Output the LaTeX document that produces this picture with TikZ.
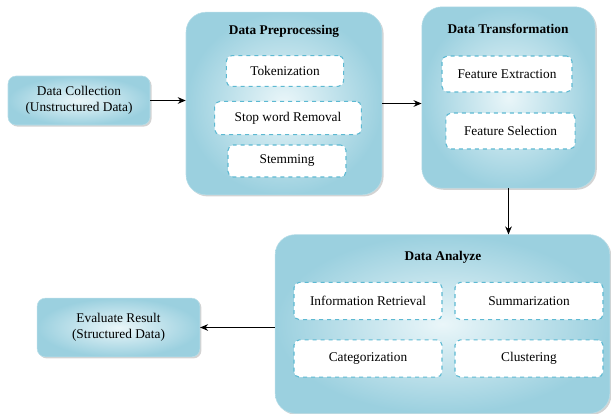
\documentclass[tikz,border=0pt]{standalone}
\usepackage{fontspec}
\setmainfont{Liberation Serif}
\usepackage[HTML]{xcolor}
\usetikzlibrary{positioning, arrows.meta, shadows}
\definecolor{boxdark}{HTML}{9BD0DF}
\definecolor{boxlight}{HTML}{EAF6F9}
\definecolor{dashblue}{HTML}{5DB9D2}
\definecolor{edgeblue}{HTML}{B9DEE8}

\begin{document}
\begin{tikzpicture}[x=0.75pt,y=-0.75pt,
  stage/.style={draw=edgeblue,rounded corners=15pt,inner color=boxlight,outer color=boxdark,
    drop shadow={shadow xshift=1.2pt,shadow yshift=-1.2pt,opacity=0.35}},
  endbox/.style={draw=edgeblue,rounded corners=6pt,inner color=boxlight,outer color=boxdark,align=center,
    font=\fontsize{10}{12}\selectfont,drop shadow={shadow xshift=1.2pt,shadow yshift=-1.2pt,opacity=0.35}},
  task/.style={draw=dashblue,dashed,thick,fill=white,rounded corners=4pt,font=\fontsize{10}{12}\selectfont},
  title/.style={font=\bfseries\fontsize{10}{12}\selectfont},
  flow/.style={-{Stealth[length=6pt,width=5pt]},thick}]
\useasboundingbox (0,0) rectangle (611,414);

% outer boxes
\node[endbox,minimum width=106.5pt,minimum height=36.75pt] (collect) at (79,100.5)
{Data Collection\\(Unstructured Data)};
\node[endbox,minimum width=122pt,minimum height=44pt] (eval) at (118.5,327.5)
{Evaluate Result\\(Structured Data)};
\node[stage,minimum width=147pt,minimum height=137pt] (prep) at (284,103.5) {};
\node[stage,minimum width=130pt,minimum height=136pt] (trans) at (508.5,97.5) {};
\node[stage,minimum width=251pt,minimum height=134pt] (ana) at (442.5,324) {};

% titles
\node[title] (preptitle) at (284,31) {Data Preprocessing};
\node[title] (transtitle) at (508,29) {Data Transformation};
\node[title] (anatitle) at (443,257) {Data Analyze};

% inner steps
\node[task,minimum width=88pt,minimum height=23pt] (token) at (285,71) {Tokenization};
\node[task,minimum width=110pt,minimum height=25pt] (stop) at (288,118) {Stop word Removal};
\node[task,minimum width=88.5pt,minimum height=24pt] (stem) at (287,161) {Stemming};
\node[task,minimum width=97.5pt,minimum height=27pt] (fext) at (507,74) {Feature Extraction};
\node[task,minimum width=97pt,minimum height=27pt] (fsel) at (510.5,131) {Feature Selection};
\node[task,minimum width=111pt,minimum height=28pt] (ir) at (368,301) {Information Retrieval};
\node[task,minimum width=111pt,minimum height=28pt] (summ) at (529,301) {Summarization};
\node[task,minimum width=111pt,minimum height=28pt] (categ) at (368,358.5) {Categorization};
\node[task,minimum width=111pt,minimum height=28pt] (clust) at (529,358.5) {Clustering};

% connectors
\draw[flow] (collect.east) -- (collect.east -| prep.west);
\draw[flow] (prep.east) -- (prep.east -| trans.west);
\draw[flow] (trans.south) -- (trans.south |- ana.north);
\draw[flow] (ana.west |- eval.east) -- (eval.east);
\end{tikzpicture}
\end{document}
